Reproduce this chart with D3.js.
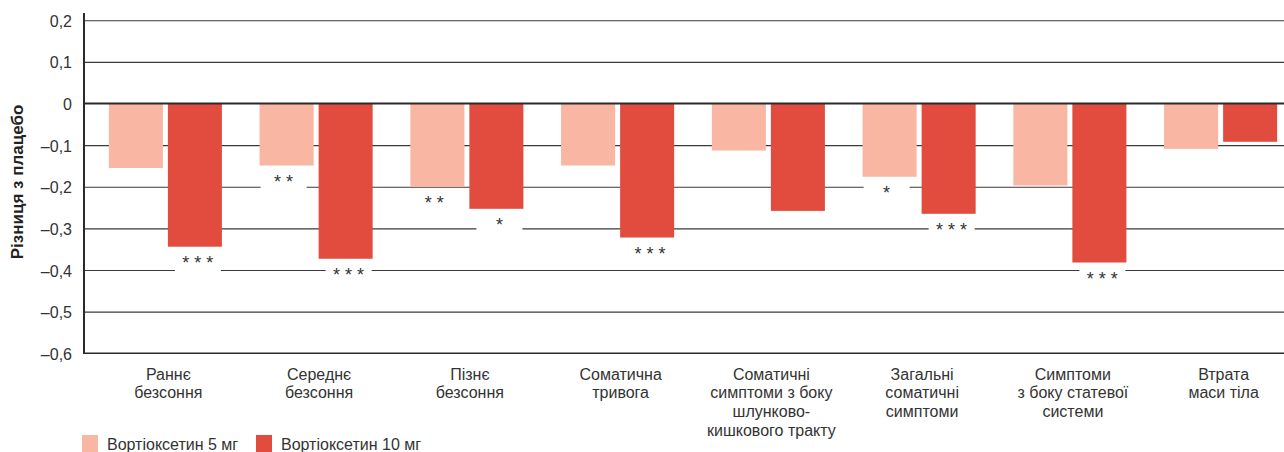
<!DOCTYPE html>
<html>
<head>
<meta charset="utf-8">
<script src="https://cdn.jsdelivr.net/npm/d3@7"></script>
<style>
  html, body { margin: 0; padding: 0; background: #fff; }
  svg { display: block; font-family: "Liberation Sans", Arial, Helvetica, sans-serif; }
</style>
</head>
<body>
<svg id="chart" width="1284" height="452"></svg>
<script>
// Categories (multi-line labels)
const categories = [
  ["Раннє", "безсоння"],
  ["Середнє", "безсоння"],
  ["Пізнє", "безсоння"],
  ["Соматична", "тривога"],
  ["Соматичні", "симптоми з боку", "шлунково-", "кишкового тракту"],
  ["Загальні", "соматичні", "симптоми"],
  ["Симптоми", "з боку статевої", "системи"],
  ["Втрата", "маси тіла"]
];
const seriesNames = ["Вортіоксетин 5 мг", "Вортіоксетин 10 мг"];
// Difference from placebo
const values5mg  = [-0.155, -0.149, -0.200, -0.149, -0.113, -0.176, -0.197, -0.109];
const values10mg = [-0.344, -0.373, -0.253, -0.322, -0.258, -0.265, -0.382, -0.092];
// Significance markers
const sig5mg  = ["", "* *", "* *", "", "", "*", "", ""];
const sig10mg = ["* * *", "* * *", "*", "* * *", "", "* * *", "* * *", ""];
// Y axis ticks
const tickValues = [0.2, 0.1, 0, -0.1, -0.2, -0.3, -0.4, -0.5, -0.6];
const tickLabels = ["0,2", "0,1", "0", "–0,1", "–0,2", "–0,3", "–0,4", "–0,5", "–0,6"];
const yTitle = "Різниця з плацебо";

const colors = ["#f9b6a3", "#e24c3e"];
const textColor = "#333";

const svg = d3.select("#chart");
const plotLeft = 84, plotRight = 1284;

const y = d3.scaleLinear().domain([0.2, -0.6]).range([20.25, 353.25]);
const x0 = d3.scaleBand().domain(d3.range(categories.length))
  .range([90, 1296]).paddingInner(0.25).paddingOuter(0.125);
const x1 = d3.scaleBand().domain([0, 1]).range([0, x0.bandwidth()]).paddingInner(0.0847);

// Gridlines
const grid = svg.append("g").attr("transform", `translate(${plotLeft},0)`)
  .call(d3.axisLeft(y).tickValues(tickValues.filter(v => v !== 0 && v !== -0.6))
    .tickSize(-(plotRight - plotLeft)).tickFormat(""));
grid.select(".domain").remove();
grid.selectAll(".tick line").attr("stroke", "#3a3a3a").attr("stroke-width", 1.2);

// Bars
const seriesData = [values5mg, values10mg];
const sigData = [sig5mg, sig10mg];
const groups = svg.append("g").selectAll("g")
  .data(categories).join("g")
  .attr("transform", (d, i) => `translate(${x0(i)},0)`);

groups.selectAll("rect.bar")
  .data((d, i) => seriesData.map((s, k) => ({ k, v: s[i] })))
  .join("rect").attr("class", "bar")
  .attr("x", d => x1(d.k))
  .attr("width", x1.bandwidth())
  .attr("y", d => y(Math.max(0, d.v)))
  .attr("height", d => Math.abs(y(d.v) - y(0)))
  .attr("fill", d => colors[d.k]);

// Significance markers with white backing
const starOffset = [-3, 3];
const marks = groups.selectAll("g.sig")
  .data((d, i) => sigData.map((s, k) => ({ k, s: s[i], v: seriesData[k][i] })).filter(d => d.s))
  .join("g").attr("class", "sig");
marks.append("rect")
  .attr("x", d => x1(d.k) + x1.bandwidth() / 2 + starOffset[d.k] - 23)
  .attr("y", d => y(d.v) + 2)
  .attr("width", 46)
  .attr("height", 25)
  .attr("fill", "#fff");
marks.append("text")
  .attr("x", d => x1(d.k) + x1.bandwidth() / 2 + starOffset[d.k])
  .attr("y", d => y(d.v) + 12.5 + 10)
  .attr("text-anchor", "middle")
  .attr("font-size", 18)
  .attr("fill", "#333")
  .text(d => d.s);

// Zero line, Y axis line, bottom line
svg.append("line").attr("x1", plotLeft).attr("x2", plotRight)
  .attr("y1", y(0)).attr("y2", y(0)).attr("stroke", "#2a2a2a").attr("stroke-width", 2);
svg.append("line").attr("x1", plotLeft).attr("x2", plotRight)
  .attr("y1", y(-0.6)).attr("y2", y(-0.6)).attr("stroke", "#2a2a2a").attr("stroke-width", 1.5);
svg.append("line").attr("x1", plotLeft).attr("x2", plotLeft)
  .attr("y1", 13).attr("y2", y(-0.6) + 0.75).attr("stroke", "#2a2a2a").attr("stroke-width", 2);

// Y tick labels
const yAxis = svg.append("g").attr("transform", `translate(${plotLeft},0)`)
  .call(d3.axisLeft(y).tickValues(tickValues).tickSize(0).tickPadding(12)
    .tickFormat((d, i) => tickLabels[i]));
yAxis.select(".domain").remove();
yAxis.selectAll("text").attr("font-size", 16).attr("fill", textColor)
  .attr("font-family", "Liberation Sans, Arial, sans-serif").attr("dy", "0.38em");

// Y title
svg.append("text")
  .attr("transform", "translate(23,182) rotate(-90)")
  .attr("text-anchor", "middle")
  .attr("font-size", 17).attr("font-weight", "bold").attr("fill", "#222")
  .text(yTitle);

// Category labels
const catLabels = svg.append("g").selectAll("text")
  .data(categories).join("text")
  .attr("x", (d, i) => x0(i) + x0.bandwidth() / 2 + 3)
  .attr("y", 379.5)
  .attr("text-anchor", "middle")
  .attr("font-size", 16).attr("fill", textColor);
catLabels.selectAll("tspan").data(d => d).join("tspan")
  .attr("x", function () { return d3.select(this.parentNode).attr("x"); })
  .attr("dy", (d, i) => i === 0 ? 0 : 18.7)
  .text(d => d);

// Legend
const legendX = [82, 256];
const legend = svg.append("g").selectAll("g").data(seriesNames).join("g")
  .attr("transform", (d, i) => `translate(${legendX[i]},0)`);
legend.append("rect").attr("x", 0).attr("y", 435).attr("width", 16).attr("height", 17)
  .attr("fill", (d, i) => colors[i]);
legend.append("text").attr("x", 25).attr("y", 449.5)
  .attr("font-size", 16).attr("fill", textColor).text(d => d);
</script>
</body>
</html>
